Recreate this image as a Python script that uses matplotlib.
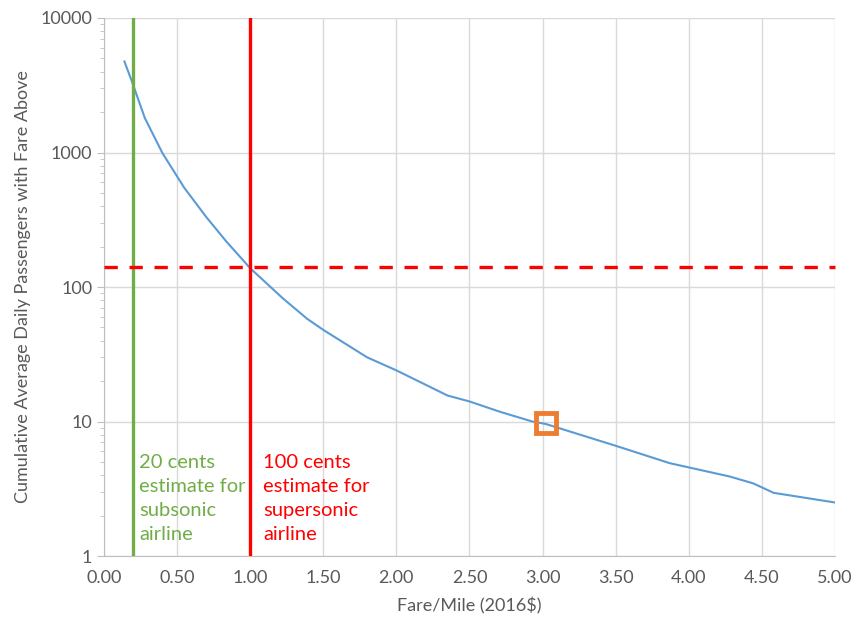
import matplotlib.pyplot as plt
from matplotlib.ticker import FixedLocator, FixedFormatter, NullFormatter
import numpy as np

plt.rcParams['font.family'] = ['Lato', 'DejaVu Sans']

# fare per mile (2016$) vs cumulative daily passengers paying more than that
fare = [0.14, 0.19, 0.28, 0.40, 0.55, 0.70, 0.84, 1.00, 1.22, 1.39, 1.50,
        1.80, 2.00, 2.35, 2.50, 2.71, 2.93, 3.02, 3.50, 3.87, 4.28, 4.44,
        4.58, 5.00]
passengers = [4750, 3400, 1800, 990, 545, 331, 216, 138, 83, 58, 48,
              30, 24, 15.6, 14.1, 11.8, 10.0, 9.6, 6.6, 4.9, 3.9, 3.47,
              2.95, 2.5]

subsonic_fare = 0.20
supersonic_fare = 1.00
threshold = 140
marker_pt = (3.02, 9.7)

xticks = np.arange(0, 5.01, 0.5)
yticks = [1, 10, 100, 1000, 10000]

grey = '#595959'
fig = plt.figure(figsize=(8.62, 6.27), dpi=100)
ax = fig.add_axes([0.1206, 0.1132, 0.8481, 0.8581])

ax.plot(fare, passengers, color='#5b9bd5', lw=1.5, zorder=3)
ax.axvline(subsonic_fare, color='#70ad47', lw=2.4, zorder=4)
ax.axvline(supersonic_fare, color='#ff0000', lw=2.4, zorder=4)
ax.axhline(threshold, color='#ff0000', lw=2.4, ls=(0, (4, 3.5)), zorder=4,
           clip_on=False)
ax.plot(*marker_pt, marker='s', ms=15, mfc='none', mec='#ed7d31', mew=3.5,
        zorder=5)

ax.text(subsonic_fare + 0.04, 5.75, '20 cents\nestimate for\nsubsonic\nairline',
        color='#70ad47', fontsize=14.5, va='top', ha='left', linespacing=1.5)
ax.text(supersonic_fare + 0.09, 5.75, '100 cents\nestimate for\nsupersonic\nairline',
        color='#ff0000', fontsize=14.5, va='top', ha='left', linespacing=1.5)

ax.set_yscale('log')
ax.set_xlim(0, 5)
ax.set_ylim(1, 10000)
ax.set_xticks(xticks)
ax.set_xticklabels(['%.2f' % v for v in xticks])
ax.yaxis.set_major_locator(FixedLocator(yticks))
ax.yaxis.set_major_formatter(FixedFormatter([str(v) for v in yticks]))
ax.yaxis.set_minor_formatter(NullFormatter())

ax.grid(True, which='major', color='#d9d9d9', lw=1)
ax.set_axisbelow(True)
for s in ['top', 'right']:
    ax.spines[s].set_visible(False)
for s in ['left', 'bottom']:
    ax.spines[s].set_color('#bfbfbf')
ax.tick_params(axis='x', length=0, pad=10, labelsize=13, colors=grey)
ax.tick_params(axis='y', which='major', length=5, color='#bfbfbf',
               labelsize=13, labelcolor=grey)
ax.tick_params(axis='y', which='minor', length=3, color='#bfbfbf')

ax.set_xlabel('Fare/Mile (2016$)', fontsize=13, color=grey, labelpad=8)
ax.set_ylabel('Cumulative Average Daily Passengers with Fare Above',
              fontsize=13, color=grey, labelpad=7)

fig.savefig('out.png', dpi=100)
